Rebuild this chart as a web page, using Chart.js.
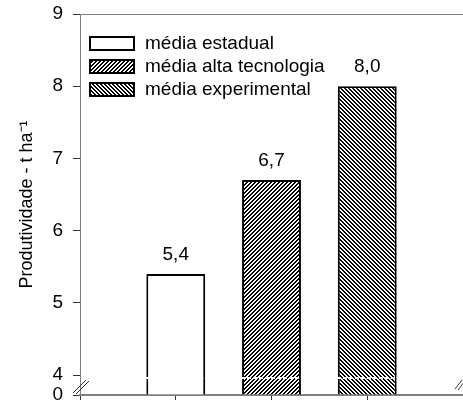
<!DOCTYPE html>
<html lang="pt">
<head>
    <meta charset="UTF-8">
    <title>Produtividade</title>
    <script src="https://cdn.jsdelivr.net/npm/chart.js"></script>
    <style>
        html, body { margin: 0; padding: 0; background: #fff; }
        canvas { display: block; }
    </style>
</head>
<body>
    <canvas id="chart" width="463" height="400"></canvas>

    <script>
        // Data
        const categories = ['média estadual', 'média alta tecnologia', 'média experimental'];
        const values = [5.4, 6.7, 8.0];
        const valueLabels = ['5,4', '6,7', '8,0'];
        const yTicks = [0, 4, 5, 6, 7, 8, 9];
        const hatches = ['none', 'forward', 'back'];

        // broken y axis: the 0..4 range is squeezed into a small gap
        const BREAK = 4, GAP = 0.277;
        function toAxis(v) { return v >= BREAK ? v - BREAK + GAP : v / BREAK * GAP; }

        const FONT = "19px 'Liberation Sans', Arial, sans-serif";
        const canvas = document.getElementById('chart');
        const ctx = canvas.getContext('2d');

        // crisp pixel hatching, 2px black / 2px white
        function makePattern(dir) {
            if (dir === 'none') return '#ffffff';
            const n = 4;
            const t = document.createElement('canvas');
            t.width = n; t.height = n;
            const g = t.getContext('2d');
            const img = g.createImageData(n, n);
            for (let y = 0; y < n; y++) {
                for (let x = 0; x < n; x++) {
                    const k = dir === 'forward' ? (x + y) % n : ((x - y) % n + n) % n;
                    const v = k < 2 ? 0 : 255;
                    const p = (y * n + x) * 4;
                    img.data[p] = img.data[p + 1] = img.data[p + 2] = v;
                    img.data[p + 3] = 255;
                }
            }
            g.putImageData(img, 0, 0);
            return ctx.createPattern(t, 'repeat');
        }

        // empty slots at both ends so the bars sit at 1, 2, 3 of 0..4
        const labels = ['', ...categories, ''];

        const datasets = categories.map((name, i) => ({
            label: name,
            data: labels.map((_, j) => (j === i + 1 ? toAxis(values[i]) : null)),
            backgroundColor: makePattern(hatches[i]),
            borderColor: '#000',
            borderWidth: 2,
            grouped: false,
            categoryPercentage: 1.0,
            barPercentage: 0.615
        }));

        // no extra room for label overflow: the plot box is fixed
        function noPad(s) {
            s.paddingTop = 0; s.paddingBottom = 0;
            s.paddingLeft = 0; s.paddingRight = 0;
        }

        // value labels, break marks, the white cut across the bars, legend
        const extras = {
            id: 'extras',
            afterDatasetsDraw(chart) {
                const c = chart.ctx;
                const y = chart.scales.y;
                const cutY = y.getPixelForValue(toAxis(3.4));
                chart.data.datasets.forEach((ds, i) => {
                    const meta = chart.getDatasetMeta(i);
                    meta.data.forEach((bar, j) => {
                        if (ds.data[j] == null) return;
                        const half = bar.width / 2;
                        c.save();
                        c.strokeStyle = '#fff';
                        c.lineWidth = 2;
                        c.setLineDash([4, 2]);
                        c.beginPath();
                        c.moveTo(bar.x - half - 1, cutY);
                        c.lineTo(bar.x + half + 1, cutY);
                        c.stroke();
                        c.restore();

                        c.save();
                        c.fillStyle = '#000';
                        c.font = FONT;
                        c.textAlign = 'center';
                        c.textBaseline = 'alphabetic';
                        c.fillText(valueLabels[i], bar.x, bar.y - 14);
                        c.restore();
                    });
                });
            },
            afterDraw(chart) {
                const c = chart.ctx;
                const y = chart.scales.y;
                const area = chart.chartArea;
                const midY = (y.getPixelForValue(0) + y.getPixelForValue(toAxis(4))) / 2 + 1;

                c.save();
                c.strokeStyle = '#333';
                c.lineWidth = 1;
                // left "//"
                c.beginPath();
                c.moveTo(area.left - 7, midY + 7);
                c.lineTo(area.left + 6, midY - 6);
                c.moveTo(area.left - 4, midY + 8);
                c.lineTo(area.left + 9, midY - 5);
                // right "//"
                c.moveTo(area.right - 8, midY + 3);
                c.lineTo(area.right - 1, midY - 6);
                c.moveTo(area.right - 5, midY + 4);
                c.lineTo(area.right + 2, midY - 5);
                c.stroke();

                // legend inside the plot
                c.font = FONT;
                c.textBaseline = 'middle';
                chart.data.datasets.forEach((ds, i) => {
                    const bx = area.left + 10, by = area.top + 23 + i * 23;
                    c.fillStyle = ds.backgroundColor;
                    c.fillRect(bx, by, 44, 13);
                    c.strokeStyle = '#000';
                    c.lineWidth = 2;
                    c.strokeRect(bx, by, 44, 13);
                    c.fillStyle = '#000';
                    c.fillText(ds.label, bx + 55, by + 7);
                });
                c.restore();
            }
        };

        Chart.defaults.font.family = "'Liberation Sans', Arial, sans-serif";
        Chart.defaults.color = '#000';

        new Chart(ctx, {
            type: 'bar',
            data: { labels: labels, datasets: datasets },
            options: {
                responsive: false,
                devicePixelRatio: 1,
                animation: false,
                layout: { padding: { top: 14, right: 0, bottom: 0, left: 0 } },
                plugins: {
                    legend: { display: false },
                    tooltip: { enabled: false }
                },
                scales: {
                    x: {
                        type: 'category',
                        offset: false,
                        grid: { drawOnChartArea: false, offset: false, tickLength: 5, color: '#333' },
                        ticks: { display: false },
                        border: { color: '#808080', width: 2 },
                        afterFit: s => { s.height = 5; noPad(s); }
                    },
                    xTop: {
                        type: 'category',
                        position: 'top',
                        offset: false,
                        grid: { display: false },
                        ticks: { display: false },
                        border: { color: '#808080', width: 1 },
                        afterFit: s => { s.height = 0; noPad(s); }
                    },
                    y: {
                        min: 0,
                        max: toAxis(9),
                        afterBuildTicks: s => { s.ticks = yTicks.map(v => ({ value: toAxis(v) })); },
                        afterFit: s => { s.width = 80; noPad(s); },
                        ticks: {
                            autoSkip: false,
                            padding: 10,
                            font: { size: 19 },
                            callback: (val, i) => String(yTicks[i])
                        },
                        grid: { drawOnChartArea: false, tickLength: 7, color: '#333' },
                        border: { color: '#808080', width: 1 },
                        title: {
                            display: true,
                            text: 'Produtividade - t ha⁻¹',
                            font: { size: 18 },
                            padding: { top: 16, bottom: 0 }
                        }
                    }
                }
            },
            plugins: [extras]
        });
    </script>
</body>
</html>
